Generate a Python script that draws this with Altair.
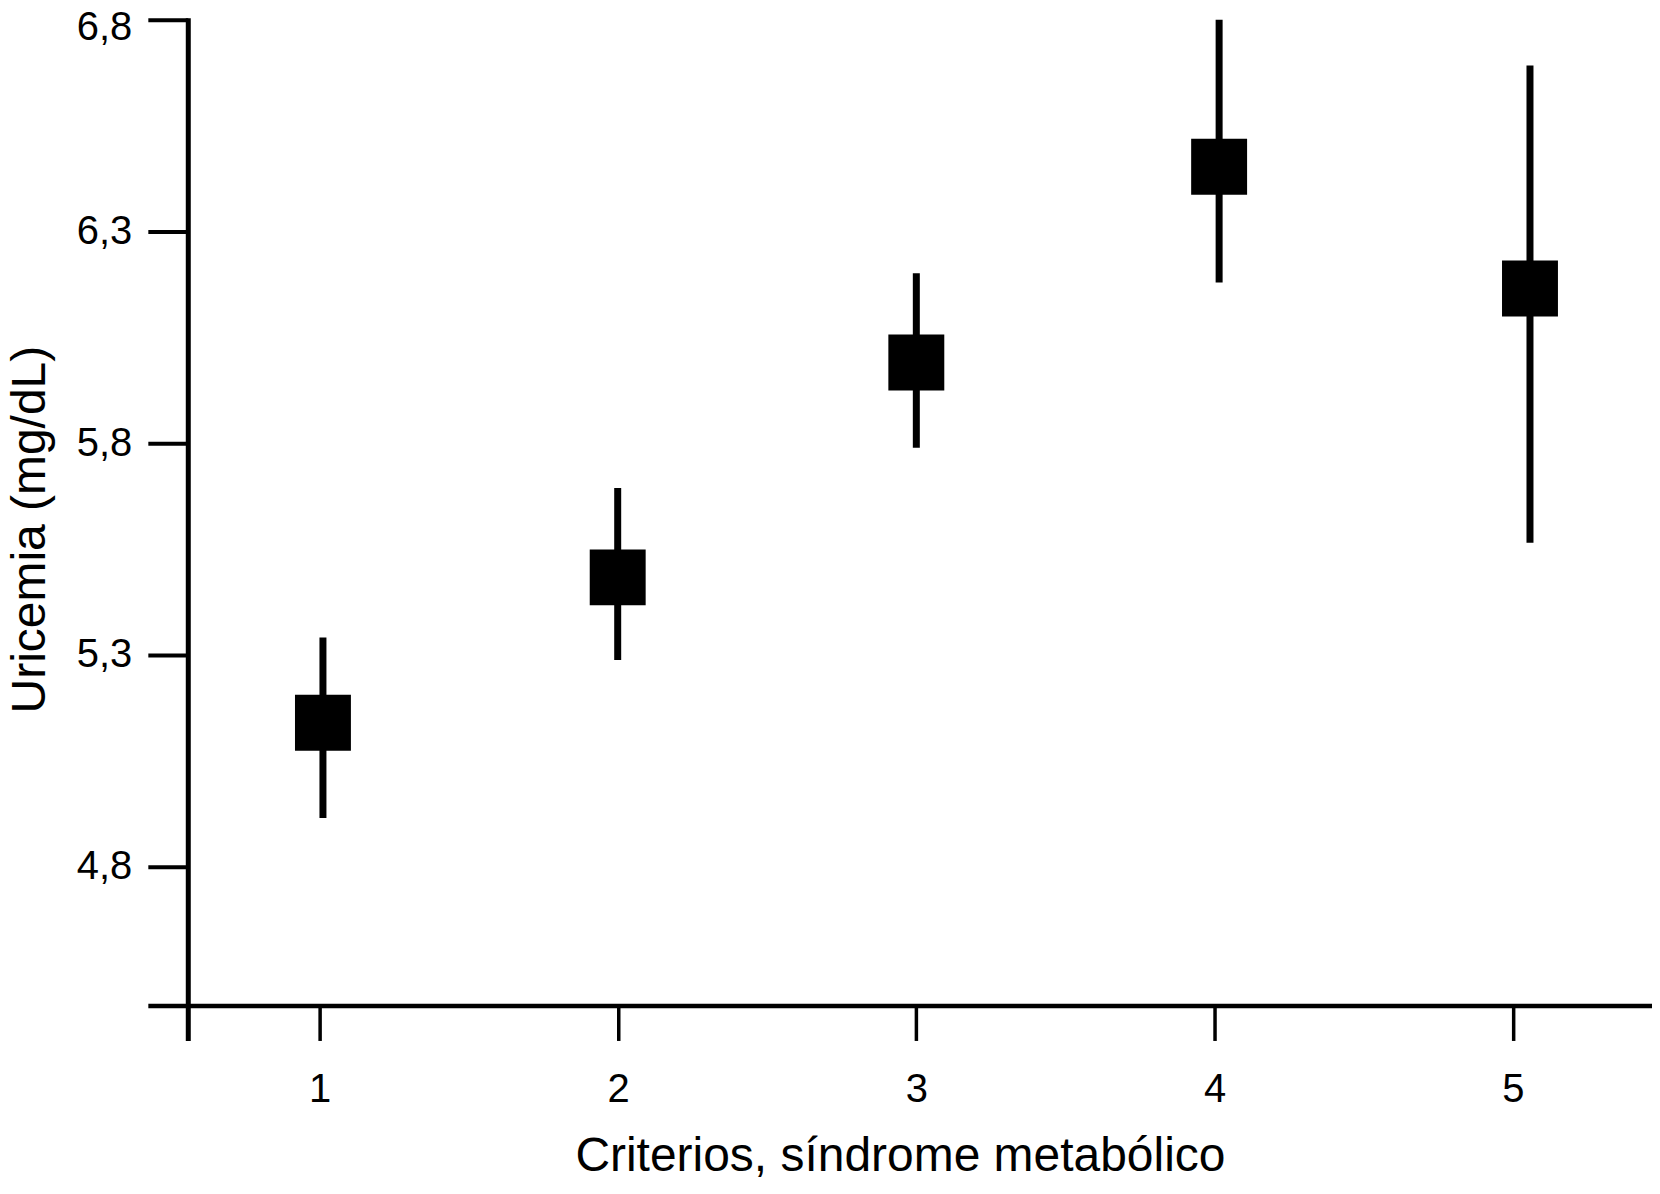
import altair as alt
import pandas as pd

# Data
criterios = [1, 2, 3, 4, 5]
x_pos = [1.011, 1.999, 3.0, 4.015, 5.057]
media = [5.140, 5.483, 5.990, 6.452, 6.165]
superior = [5.341, 5.694, 6.201, 6.799, 6.691]
inferior = [4.915, 5.288, 5.789, 6.179, 5.565]
y_ticks = [4.8, 5.3, 5.8, 6.3, 6.8]
x_ticks = [1, 2, 3, 4, 5]

df = pd.DataFrame({
    "criterios": criterios,
    "x": x_pos,
    "media": media,
    "superior": superior,
    "inferior": inferior,
})

FONT = "Liberation Sans"

xscale = alt.Scale(domain=[0.424, 5.466], nice=False, zero=False)
yscale = alt.Scale(domain=[4.39, 6.804], nice=False, zero=False)

x_axis = alt.Axis(
    values=x_ticks, format="d",
    title="Criterios, síndrome metabólico",
    offset=-35, tickSize=35, tickWidth=3.5, domainWidth=4.5,
    labelPadding=29, labelFontSize=40, labelFont=FONT, labelColor="black",
    titleFontSize=48, titleFont=FONT, titleFontWeight="normal", titleColor="black",
    titleX=753, titleY=165, titleBaseline="alphabetic", titleAlign="center",
    grid=False, labelFlush=False, domainColor="black", tickColor="black",
)

y_axis = alt.Axis(
    values=y_ticks,
    labelExpr="replace(format(datum.value, '.1f'), '.', ',')",
    title="Uricemia (mg/dL)",
    offset=-40, tickSize=40, tickWidth=4, domainWidth=5,
    labelPadding=16, labelFontSize=40, labelFont=FONT, labelColor="black",
    labelFlush=5, labelFlushOffset=12,
    titleFontSize=48, titleFont=FONT, titleFontWeight="normal", titleColor="black",
    titleX=-157, titleY=512, titleAngle=270, titleBaseline="middle", titleAlign="center",
    grid=False, domainColor="black", tickColor="black",
)

base = alt.Chart(df)

rules = base.mark_rule(strokeWidth=7, color="black").encode(
    x=alt.X("x:Q", scale=xscale, axis=x_axis),
    y=alt.Y("inferior:Q", scale=yscale, axis=y_axis),
    y2="superior:Q",
)

squares = base.mark_square(size=3136, color="black", opacity=1, strokeWidth=0).encode(
    x=alt.X("x:Q", scale=xscale, axis=x_axis),
    y=alt.Y("media:Q", scale=yscale, axis=y_axis),
)

chart = alt.layer(rules, squares).properties(
    width=1506,
    height=1024,
    autosize=alt.AutoSizeParams(type="none"),
    padding={"left": 140, "top": 9, "right": 0, "bottom": 140},
    background="white",
).configure_view(stroke=None)

chart.save("out.html", embed_options={"renderer": "svg", "actions": False})
